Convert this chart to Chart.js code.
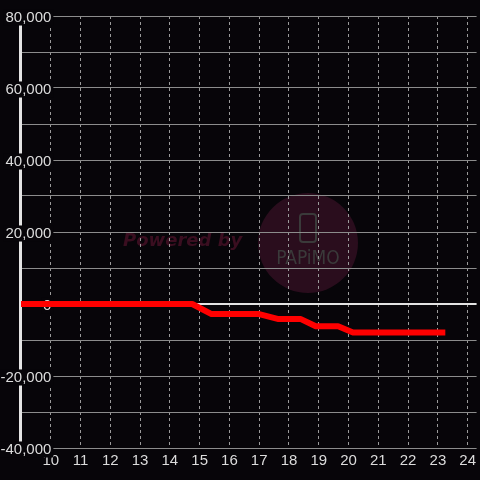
<!DOCTYPE html>
<html>
<head>
<meta charset="utf-8">
<script src="https://cdn.jsdelivr.net/npm/chart.js@4/dist/chart.umd.min.js"></script>
<style>
  html, body { margin: 0; padding: 0; background: #070509; }
  #wrap { width: 480px; height: 480px; position: relative; }
</style>
</head>
<body>
<div id="wrap"><canvas id="chart"></canvas></div>
<script>
// hour of day vs. running difference
const hours = [9, 14.75, 15.4, 17.0, 17.65, 18.4, 18.9, 19.65, 20.15, 23.25];
const diff = [0, 0, -2800, -2800, -4200, -4200, -6200, -6200, -7900, -7900];

const xTicks = [10, 11, 12, 13, 14, 15, 16, 17, 18, 19, 20, 21, 22, 23, 24];
const yGrid = [-40000, -30000, -20000, -10000, 0, 10000, 20000, 30000, 40000, 50000, 60000, 70000, 80000];
const yLabels = [-40000, -20000, 0, 20000, 40000, 60000, 80000];

const BG = '#070509';
const TEXT = '#dcdcdc';

const backdrop = {
    id: 'backdrop',
    beforeDraw(chart) {
        const ctx = chart.ctx;
        ctx.save();
        ctx.fillStyle = BG;
        ctx.fillRect(0, 0, chart.width, chart.height);

        // watermark
        ctx.fillStyle = '#2a0d1d';
        ctx.beginPath();
        ctx.arc(308, 243, 50, 0, Math.PI * 2);
        ctx.fill();

        ctx.fillStyle = '#3a0e20';
        ctx.font = 'italic bold 18px "DejaVu Sans"';
        ctx.textBaseline = 'middle';
        ctx.textAlign = 'left';
        ctx.fillText('Powered by', 123, 241);

        ctx.strokeStyle = '#3a3a3a';
        ctx.lineWidth = 2;
        ctx.beginPath();
        ctx.roundRect(300, 214, 16, 28, 3);
        ctx.stroke();

        ctx.fillStyle = '#3a3a3a';
        ctx.font = '19px "DejaVu Sans Condensed"';
        ctx.textAlign = 'center';
        ctx.fillText('PAPiMO', 308, 259);
        ctx.restore();
    }
};

const chart = new Chart(document.getElementById('chart'), {
    type: 'line',
    data: {
        datasets: [{
            data: hours.map((h, i) => ({ x: h, y: diff[i] })),
            borderColor: '#ff0000',
            borderWidth: 6,
            borderJoinStyle: 'round',
            borderCapStyle: 'butt',
            pointRadius: 0,
            tension: 0,
            fill: false
        }]
    },
    options: {
        responsive: true,
        maintainAspectRatio: false,
        animation: false,
        layout: { padding: { top: 16, left: 0, right: 0, bottom: 0 } },
        plugins: {
            legend: { display: false },
            tooltip: { enabled: false }
        },
        scales: {
            x: {
                type: 'linear',
                min: 8.967,
                max: 24.3,
                afterBuildTicks: s => { s.ticks = xTicks.map(v => ({ value: v })); },
                afterFit: s => { s.height = 32; },
                grid: {
                    color: '#9a9a9a',
                    lineWidth: 1,
                    drawTicks: false
                },
                border: { display: false, dash: [3, 3] },
                ticks: {
                    color: TEXT,
                    font: { family: '"Liberation Sans", Arial, sans-serif', size: 15 },
                    padding: 4,
                    maxRotation: 0,
                    autoSkip: false
                }
            },
            y: {
                type: 'linear',
                position: 'left',
                min: -40000,
                max: 80000,
                afterBuildTicks: s => { s.ticks = yGrid.map(v => ({ value: v })); },
                afterFit: s => { s.width = 20; },
                grid: {
                    color: ctx => ctx.tick && ctx.tick.value === 0 ? '#e4e4e4' : '#8c8c8c',
                    lineWidth: ctx => ctx.tick && ctx.tick.value === 0 ? 2 : 1,
                    drawTicks: false
                },
                border: { display: true, color: '#e4e4e4', width: 3 },
                ticks: {
                    color: TEXT,
                    font: { family: '"Liberation Sans", Arial, sans-serif', size: 15, lineHeight: 1.07 },
                    mirror: true,
                    crossAlign: 'far',
                    padding: -19.5,
                    labelOffset: 1.5,
                    autoSkip: false,
                    showLabelBackdrop: ctx => !!ctx.tick && yLabels.includes(ctx.tick.value),
                    backdropColor: BG,
                    backdropPadding: { top: 0, bottom: 0, left: 2, right: 2 },
                    callback: v => yLabels.includes(v) ? v.toLocaleString('en-US') : ''
                }
            }
        }
    },
    plugins: [backdrop]
});
</script>
</body>
</html>
